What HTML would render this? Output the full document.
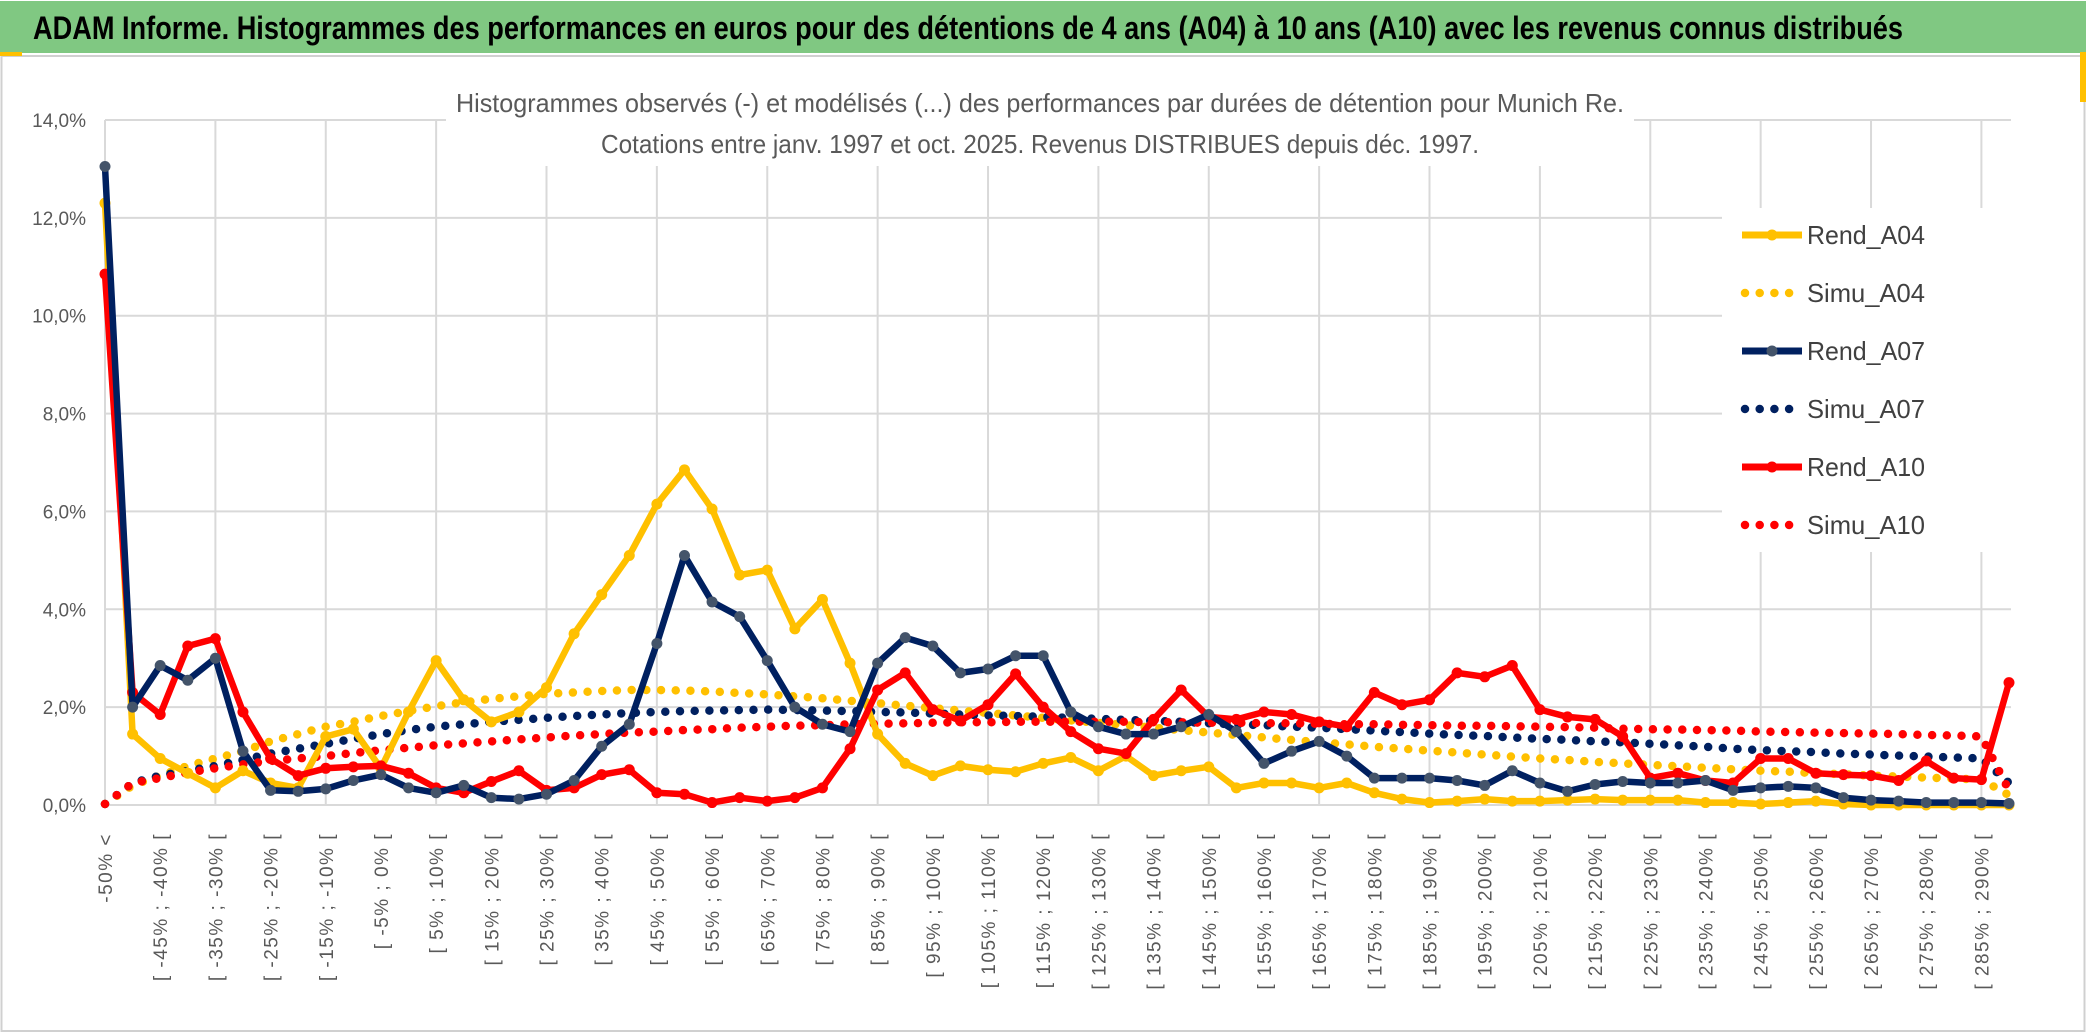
<!DOCTYPE html>
<html><head><meta charset="utf-8">
<style>
html,body{margin:0;padding:0;background:#fff;}
svg{display:block;font-family:"Liberation Sans",sans-serif;}
</style></head>
<body>
<svg id="chart" width="2086" height="1033" viewBox="0 0 2086 1033" xmlns="http://www.w3.org/2000/svg">
  <rect x="0" y="0" width="2086" height="1033" fill="#fff"/>
  <rect x="1.5" y="56" width="2083" height="975" fill="none" stroke="#d0d0d0" stroke-width="2"/>
  <rect x="0" y="1" width="2086" height="52" fill="#80c882"/>
  <rect x="0" y="52" width="22" height="4" fill="#ffc000"/>
  <rect x="2080" y="52" width="6" height="50" fill="#ffc000"/>
  <text x="33" y="39" font-size="32" font-weight="bold" fill="#000" textLength="1870" lengthAdjust="spacingAndGlyphs">ADAM Informe. Histogrammes des performances en euros pour des détentions de 4 ans (A04) à 10 ans (A10) avec les revenus connus distribués</text>
  <g id="grid"></g>
  <rect x="446" y="92" width="1188" height="74" fill="#fff"/>
  <text x="1040" y="112" font-size="26" fill="#595959" text-anchor="middle" textLength="1168" lengthAdjust="spacingAndGlyphs">Histogrammes observés (-) et modélisés (...) des performances par durées de détention pour Munich Re.</text>
  <text x="1040" y="153" font-size="26" fill="#595959" text-anchor="middle" textLength="878" lengthAdjust="spacingAndGlyphs">Cotations entre janv. 1997 et oct. 2025. Revenus DISTRIBUES depuis déc. 1997.</text>
  <g id="yaxis"></g>
  <g id="xaxis"></g>
  <g id="series"></g>
  <g id="legend"></g>
</svg>
<script>
const categories = ["-50% <","[ -50% ; -45% [","[ -45% ; -40% [","[ -40% ; -35% [","[ -35% ; -30% [","[ -30% ; -25% [","[ -25% ; -20% [","[ -20% ; -15% [","[ -15% ; -10% [","[ -10% ; -5% [","[ -5% ; 0% [","[ 0% ; 5% [","[ 5% ; 10% [","[ 10% ; 15% [","[ 15% ; 20% [","[ 20% ; 25% [","[ 25% ; 30% [","[ 30% ; 35% [","[ 35% ; 40% [","[ 40% ; 45% [","[ 45% ; 50% [","[ 50% ; 55% [","[ 55% ; 60% [","[ 60% ; 65% [","[ 65% ; 70% [","[ 70% ; 75% [","[ 75% ; 80% [","[ 80% ; 85% [","[ 85% ; 90% [","[ 90% ; 95% [","[ 95% ; 100% [","[ 100% ; 105% [","[ 105% ; 110% [","[ 110% ; 115% [","[ 115% ; 120% [","[ 120% ; 125% [","[ 125% ; 130% [","[ 130% ; 135% [","[ 135% ; 140% [","[ 140% ; 145% [","[ 145% ; 150% [","[ 150% ; 155% [","[ 155% ; 160% [","[ 160% ; 165% [","[ 165% ; 170% [","[ 170% ; 175% [","[ 175% ; 180% [","[ 180% ; 185% [","[ 185% ; 190% [","[ 190% ; 195% [","[ 195% ; 200% [","[ 200% ; 205% [","[ 205% ; 210% [","[ 210% ; 215% [","[ 215% ; 220% [","[ 220% ; 225% [","[ 225% ; 230% [","[ 230% ; 235% [","[ 235% ; 240% [","[ 240% ; 245% [","[ 245% ; 250% [","[ 250% ; 255% [","[ 255% ; 260% [","[ 260% ; 265% [","[ 265% ; 270% [","[ 270% ; 275% [","[ 275% ; 280% [","[ 280% ; 285% [","[ 285% ; 290% [","[ 290% ; 295% ["];
const yTicks = [0,2,4,6,8,10,12,14];
const yTickLabels = ["0,0%","2,0%","4,0%","6,0%","8,0%","10,0%","12,0%","14,0%"];
const rendA04 = [12.3,1.45,0.95,0.65,0.35,0.7,0.45,0.35,1.4,1.55,0.75,1.9,2.95,2.15,1.7,1.9,2.4,3.5,4.3,5.1,6.15,6.85,6.05,4.7,4.8,3.6,4.2,2.9,1.45,0.85,0.6,0.8,0.72,0.68,0.85,0.97,0.7,1.0,0.6,0.7,0.78,0.35,0.45,0.45,0.35,0.45,0.25,0.12,0.05,0.08,0.12,0.08,0.08,0.1,0.12,0.1,0.1,0.1,0.05,0.05,0.02,0.05,0.08,0.02,0.0,0.0,0.0,0.0,0.0,0.0];
const simuA04 = [0.02,0.4,0.6,0.8,0.95,1.1,1.3,1.45,1.6,1.7,1.82,1.92,2.02,2.1,2.17,2.22,2.27,2.3,2.33,2.35,2.35,2.34,2.32,2.29,2.26,2.22,2.18,2.13,2.08,2.03,1.98,1.93,1.88,1.83,1.78,1.73,1.68,1.63,1.58,1.53,1.48,1.43,1.38,1.33,1.28,1.24,1.19,1.15,1.11,1.07,1.03,0.99,0.95,0.92,0.88,0.85,0.82,0.79,0.76,0.73,0.7,0.68,0.65,0.63,0.6,0.58,0.56,0.54,0.52,0.2];
const rendA07 = [13.05,2.0,2.85,2.55,3.0,1.1,0.3,0.28,0.33,0.5,0.62,0.35,0.25,0.4,0.15,0.12,0.22,0.5,1.2,1.65,3.3,5.1,4.15,3.85,2.95,2.0,1.65,1.5,2.9,3.42,3.25,2.7,2.78,3.05,3.05,1.9,1.6,1.45,1.45,1.6,1.85,1.5,0.85,1.1,1.3,1.0,0.55,0.55,0.55,0.5,0.4,0.7,0.45,0.28,0.42,0.48,0.45,0.45,0.5,0.3,0.35,0.38,0.35,0.15,0.1,0.08,0.05,0.05,0.05,0.03];
const simuA07 = [0.02,0.45,0.6,0.7,0.8,0.92,1.05,1.15,1.25,1.35,1.45,1.53,1.6,1.65,1.7,1.74,1.78,1.82,1.85,1.88,1.9,1.92,1.93,1.94,1.95,1.94,1.93,1.92,1.9,1.89,1.87,1.85,1.83,1.82,1.8,1.78,1.76,1.74,1.72,1.7,1.67,1.65,1.63,1.6,1.58,1.55,1.52,1.49,1.46,1.43,1.41,1.38,1.35,1.33,1.3,1.28,1.25,1.22,1.19,1.15,1.12,1.1,1.08,1.05,1.03,1.01,0.99,0.97,0.95,0.45];
const rendA10 = [10.85,2.3,1.85,3.25,3.4,1.9,0.95,0.6,0.75,0.78,0.8,0.65,0.35,0.25,0.48,0.7,0.3,0.35,0.62,0.72,0.25,0.22,0.05,0.15,0.08,0.15,0.35,1.15,2.35,2.7,1.95,1.72,2.05,2.68,2.0,1.5,1.15,1.05,1.75,2.35,1.8,1.75,1.9,1.85,1.7,1.6,2.3,2.05,2.15,2.7,2.62,2.85,1.95,1.8,1.75,1.4,0.55,0.65,0.5,0.45,0.95,0.95,0.65,0.62,0.6,0.5,0.9,0.55,0.52,2.5];
const simuA10 = [0.02,0.45,0.55,0.66,0.75,0.83,0.9,0.95,1.0,1.06,1.12,1.17,1.22,1.26,1.3,1.34,1.38,1.42,1.45,1.48,1.5,1.53,1.55,1.58,1.6,1.62,1.63,1.65,1.66,1.67,1.68,1.69,1.69,1.7,1.7,1.7,1.7,1.7,1.69,1.69,1.68,1.68,1.67,1.67,1.66,1.65,1.65,1.64,1.63,1.62,1.62,1.61,1.6,1.59,1.58,1.56,1.55,1.54,1.53,1.52,1.5,1.49,1.48,1.47,1.46,1.45,1.43,1.42,1.4,0.3];

const NS = "http://www.w3.org/2000/svg";
const X0 = 105, X1 = 2009, Y0 = 805, YTOP = 120, YMAX = 14;
const n = categories.length;
function xPos(i){ return X0 + i * (X1 - X0) / (n - 1); }
function yPos(v){ return Y0 - v * (Y0 - YTOP) / YMAX; }
function mk(tag, attrs, parent){ const e = document.createElementNS(NS, tag); for (const k in attrs) e.setAttribute(k, attrs[k]); parent.appendChild(e); return e; }

const grid = document.getElementById('grid');
yTicks.forEach(function(t){
  const l = mk('line', {x1: X0, x2: 2011, y1: yPos(t), y2: yPos(t), stroke: '#d9d9d9', 'stroke-width': 2}, grid);
  
  
});
for (let i = 0; i < n; i += 4) {
  const l = mk('line', {x1: xPos(i), x2: xPos(i), y1: YTOP, y2: Y0, stroke: '#d9d9d9', 'stroke-width': 2}, grid);
  
  
}

const yaxis = document.getElementById('yaxis');
yTicks.forEach(function(t, k){
  const tx = mk('text', {x: 86, y: yPos(t) + 7, 'font-size': 19, fill: '#595959', 'text-anchor': 'end'}, yaxis);
  tx.textContent = yTickLabels[k];
  
  
});

const xaxis = document.getElementById('xaxis');
for (let i = 0; i < n; i += 2) {
  const x = xPos(i) + 7;
  const tx = mk('text', {x: x, y: 833, 'font-size': 19, fill: '#595959', 'text-anchor': 'end', transform: 'rotate(-90 ' + x + ' 833)', 'letter-spacing': '1.5'}, xaxis);
  tx.textContent = categories[i];
  
  
}

const series = document.getElementById('series');
function ptsOf(vals){ return vals.map(function(v, i){ return xPos(i).toFixed(1) + ',' + yPos(v).toFixed(1); }).join(' '); }
function dotted(vals, color, name){
  const p = mk('polyline', {points: ptsOf(vals), fill: 'none', stroke: color, 'stroke-width': 8.5, 'stroke-linecap': 'round', 'stroke-dasharray': '0 14.7'}, series);
  
  
}
function solid(vals, color, mcolor, name){
  const g = mk('g', {}, series);
  
  
  const p = mk('polyline', {points: ptsOf(vals), fill: 'none', stroke: color, 'stroke-width': 6.5, 'stroke-linejoin': 'round'}, g);
  
  
  vals.forEach(function(v, i){
    const c = mk('circle', {cx: xPos(i), cy: yPos(v), r: 5.5, fill: mcolor}, g);
    
    
  });
}
dotted(simuA04, '#ffc000', 'simu-a04');
dotted(simuA07, '#002060', 'simu-a07');
dotted(simuA10, '#ff0000', 'simu-a10');
solid(rendA04, '#ffc000', '#ffc000', 'rend-a04');
solid(rendA10, '#ff0000', '#ff0000', 'rend-a10');
solid(rendA07, '#002060', '#44546a', 'rend-a07');

const legend = document.getElementById('legend');
const lbg = mk('rect', {x: 1722, y: 208, width: 292, height: 344, fill: '#fff'}, legend);


const legendNames = ['Rend_A04','Simu_A04','Rend_A07','Simu_A07','Rend_A10','Simu_A10'];
const legendColors = ['#ffc000','#ffc000','#002060','#002060','#ff0000','#ff0000'];
const legendMarkers = ['#ffc000','','#44546a','','#ff0000',''];
legendNames.forEach(function(nm, k){
  const y = 235 + k * 58;
  const g = mk('g', {}, legend);
  
  
  if (legendMarkers[k]) {
    mk('line', {x1: 1742, x2: 1802, y1: y, y2: y, stroke: legendColors[k], 'stroke-width': 7}, g);
    mk('circle', {cx: 1772, cy: y, r: 5.5, fill: legendMarkers[k]}, g);
  } else {
    mk('line', {x1: 1745, x2: 1802, y1: y, y2: y, stroke: legendColors[k], 'stroke-width': 8.5, 'stroke-linecap': 'round', 'stroke-dasharray': '0 14.7'}, g);
  }
  const t = mk('text', {x: 1807, y: y + 9, 'font-size': 26, fill: '#404040', textLength: 118, lengthAdjust: 'spacingAndGlyphs'}, g);
  t.textContent = nm;
});
</script>
</body></html>
